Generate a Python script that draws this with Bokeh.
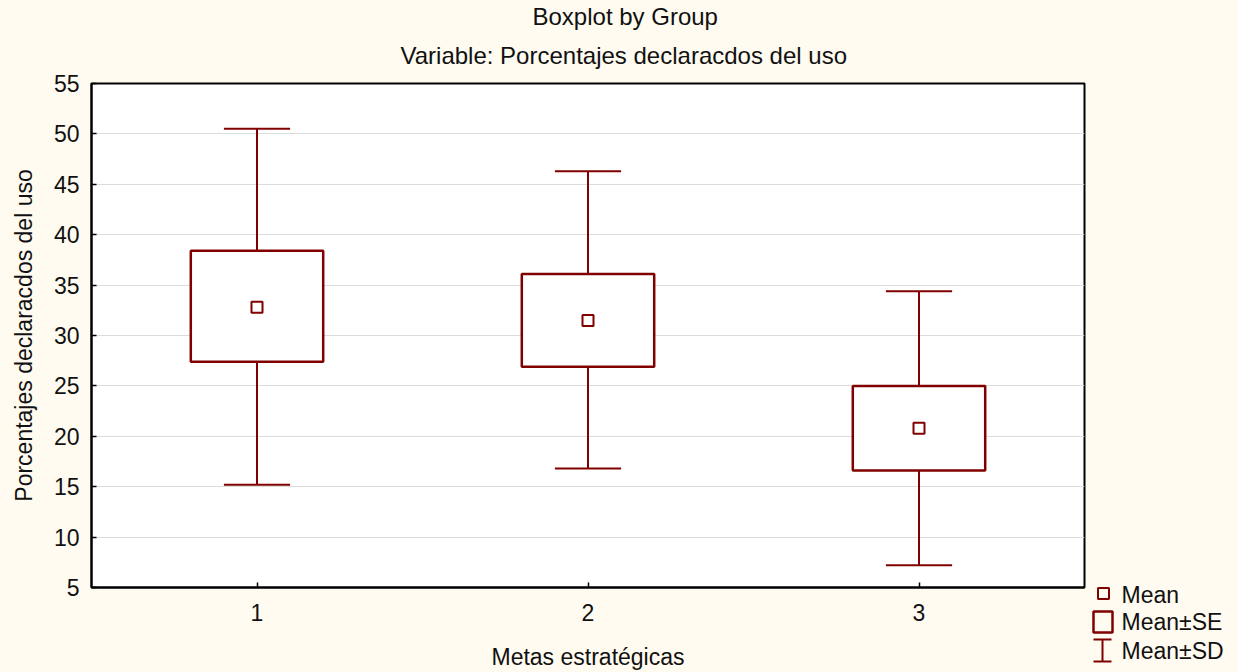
from bokeh.plotting import figure
from bokeh.models import Range1d, FixedTicker, Title, ColumnDataSource
from bokeh.layouts import row
from bokeh.core.properties import value
from bokeh.embed import file_html
from bokeh.resources import INLINE

# ---- data ----
groups = [1, 2, 3]
mean = [32.8, 31.5, 20.8]
se_low = [27.4, 26.9, 16.6]
se_high = [38.4, 36.1, 25.0]
sd_low = [15.2, 16.8, 7.2]
sd_high = [50.5, 46.3, 34.4]
y_ticks = [5, 10, 15, 20, 25, 30, 35, 40, 45, 50, 55]
x_ticks = [1, 2, 3]
legend_labels = ["Mean", "Mean\u00b1SE", "Mean\u00b1SD"]

CREAM = "#FFFBF0"
RED = "#800000"
FONT = "Liberation Sans"
BOX_W = 0.4
CAP_W = 0.2

src = ColumnDataSource(dict(
    x=groups, mean=mean, se_low=se_low, se_high=se_high,
    sd_low=sd_low, sd_high=sd_high,
    left=[g - BOX_W / 2 for g in groups], right=[g + BOX_W / 2 for g in groups],
    cl=[g - CAP_W / 2 for g in groups], cr=[g + CAP_W / 2 for g in groups],
))

p = figure(width=1088, height=672, output_backend="svg", toolbar_location=None,
           x_range=Range1d(0.5, 3.5), y_range=Range1d(5, 55),
           min_border_left=91, min_border_right=4, min_border_top=83, min_border_bottom=84)
p.title.visible = False
p.background_fill_color = "white"
p.border_fill_color = CREAM
p.outline_line_color = "black"
p.outline_line_width = 2

p.xgrid.visible = False
p.ygrid.grid_line_color = "#dcdcdc"
p.ygrid.grid_line_width = 1

for ax in (p.xaxis, p.yaxis):
    ax.axis_line_color = "black"
    ax.axis_line_width = 2
    ax.major_tick_in = 5
    ax.major_tick_out = 0
    ax.minor_tick_line_color = None
    ax.major_tick_line_color = "black"
    ax.major_tick_line_width = 1.5
    ax.major_label_text_font = FONT
    ax.major_label_text_font_size = "23px"
    ax.major_label_text_color = "#111111"
    ax.axis_label_text_font = FONT
    ax.axis_label_text_font_size = "23px"
    ax.axis_label_text_font_style = "normal"
    ax.axis_label_text_color = "#111111"

p.yaxis.ticker = FixedTicker(ticks=y_ticks)
p.xaxis.ticker = FixedTicker(ticks=x_ticks)
p.yaxis.major_label_standoff = 12
p.xaxis.major_label_standoff = 16
p.yaxis.axis_label = "Porcentajes declaracdos del uso"
p.xaxis.axis_label = "Metas estrat\u00e9gicas"
p.yaxis.axis_label_standoff = 14
p.xaxis.axis_label_standoff = 20

# titles (later added goes further out)
t2 = Title(text="Variable: Porcentajes declaracdos del uso", align="left",
           text_font=FONT, text_font_size="24px", text_font_style="normal",
           text_color="#111111", offset=309, standoff=30)
t1 = Title(text="Boxplot by Group", align="left",
           text_font=FONT, text_font_size="24px", text_font_style="normal",
           text_color="#111111", offset=441, standoff=-11)
p.add_layout(t2, "above")
p.add_layout(t1, "above")

# whiskers (Mean±SD)
p.segment(x0="x", y0="sd_low", x1="x", y1="sd_high", source=src, line_color=RED, line_width=2)
p.segment(x0="cl", y0="sd_high", x1="cr", y1="sd_high", source=src, line_color=RED, line_width=2)
p.segment(x0="cl", y0="sd_low", x1="cr", y1="sd_low", source=src, line_color=RED, line_width=2)
# boxes (Mean±SE)
p.quad(left="left", right="right", bottom="se_low", top="se_high", source=src,
       fill_color="white", line_color=RED, line_width=2.5)
# means
p.scatter(x="x", y="mean", source=src, marker="square", size=11,
          fill_color="white", line_color=RED, line_width=2)

# ---- legend panel ----
leg = figure(width=150, height=672, output_backend="svg", toolbar_location=None,
             x_range=Range1d(0, 150), y_range=Range1d(672, 0),
             x_axis_type=None, y_axis_type=None, min_border=0,
             min_border_left=0, min_border_right=0, min_border_top=0, min_border_bottom=0)
leg.title.visible = False
leg.background_fill_color = CREAM
leg.border_fill_color = CREAM
leg.outline_line_color = None
leg.xgrid.visible = False
leg.ygrid.visible = False

for fig in (p, leg):
    if "frame_align" in fig.properties():
        fig.frame_align = False

leg.scatter(x=[15], y=[593], marker="square", size=11, fill_color=None,
            line_color=RED, line_width=2)
leg.quad(left=[5], right=[24], top=[611], bottom=[632], fill_color=None,
         line_color=RED, line_width=2.5)
leg.segment(x0=[14, 5, 5], y0=[639, 639, 661], x1=[14, 23, 23], y1=[661, 639, 661],
            line_color=RED, line_width=2)
leg.text(x=[33, 33, 33], y=[594, 621, 650], text=legend_labels,
         text_font=value(FONT), text_font_size="23px", text_color="#111111",
         text_baseline="middle", text_align="left")

layout = row(p, leg, spacing=0, styles={"background-color": CREAM})
open("out.html", "w").write(file_html(layout, INLINE))
